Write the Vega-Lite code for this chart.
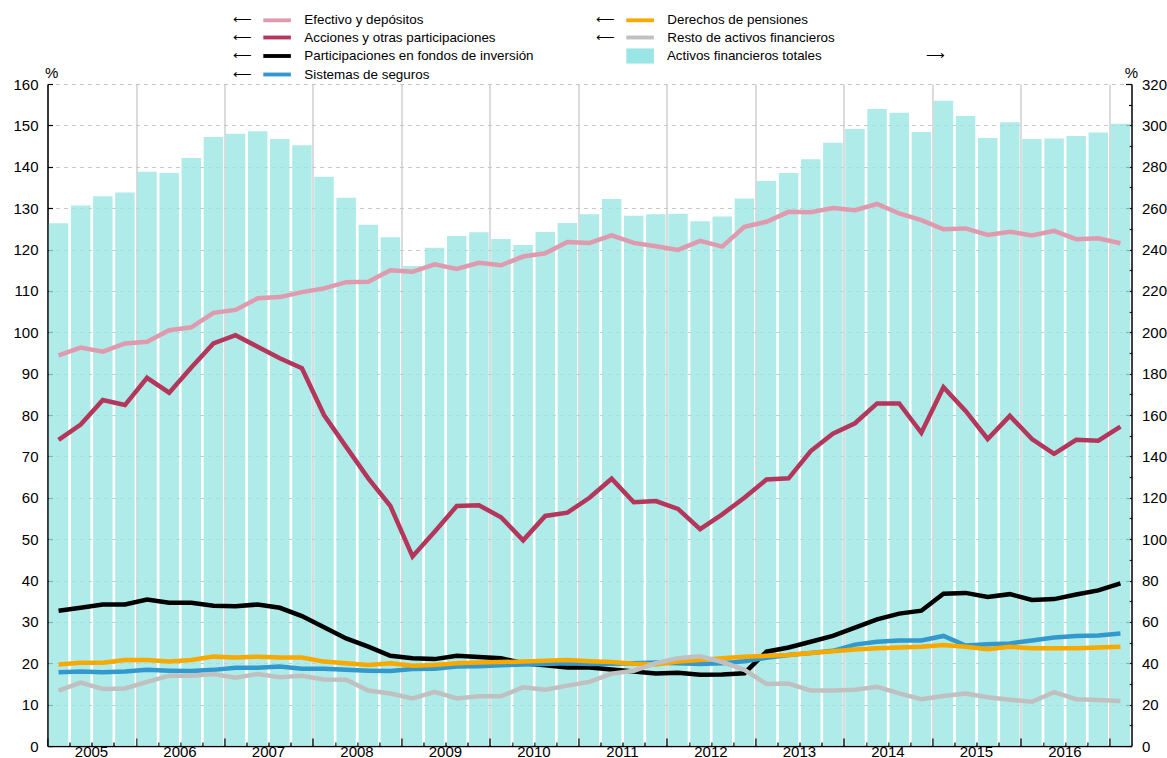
{
  "$schema": "https://vega.github.io/schema/vega-lite/v6.json",
  "autosize": {"type": "none"},
  "padding": {"left": 47.5, "top": 84, "right": 36, "bottom": 12},
  "width": 1084,
  "height": 662,
  "background": "white",
  "config": {
    "view": {"stroke": null},
    "font": "Liberation Sans",
    "axis": {"labelFont": "Liberation Sans", "titleFont": "Liberation Sans", "labelColor": "#000", "titleColor": "#000", "domainColor": "#000", "tickColor": "#000"}
  },
  "data": {
    "values": [
      {"q":"2005 Q1","total":252.7,"efectivo":94.4,"acciones":74.0,"fondos":32.7,"seguros":17.8,"pensiones":19.7,"resto":13.4},
      {"q":"2005 Q2","total":261.3,"efectivo":96.3,"acciones":77.7,"fondos":33.4,"seguros":18.0,"pensiones":20.1,"resto":15.3},
      {"q":"2005 Q3","total":265.7,"efectivo":95.3,"acciones":83.6,"fondos":34.2,"seguros":17.8,"pensiones":20.1,"resto":13.8},
      {"q":"2005 Q4","total":267.5,"efectivo":97.3,"acciones":82.4,"fondos":34.2,"seguros":18.0,"pensiones":20.8,"resto":13.9},
      {"q":"2006 Q1","total":277.6,"efectivo":97.7,"acciones":89.0,"fondos":35.4,"seguros":18.4,"pensiones":20.8,"resto":15.5},
      {"q":"2006 Q2","total":277.0,"efectivo":100.5,"acciones":85.4,"fondos":34.6,"seguros":18.2,"pensiones":20.4,"resto":17.0},
      {"q":"2006 Q3","total":284.2,"efectivo":101.2,"acciones":91.5,"fondos":34.6,"seguros":18.1,"pensiones":20.8,"resto":17.0},
      {"q":"2006 Q4","total":294.4,"efectivo":104.7,"acciones":97.3,"fondos":33.9,"seguros":18.4,"pensiones":21.6,"resto":17.4},
      {"q":"2007 Q1","total":296.0,"efectivo":105.4,"acciones":99.3,"fondos":33.8,"seguros":18.9,"pensiones":21.4,"resto":16.5},
      {"q":"2007 Q2","total":297.1,"efectivo":108.2,"acciones":96.5,"fondos":34.2,"seguros":18.9,"pensiones":21.6,"resto":17.4},
      {"q":"2007 Q3","total":293.4,"efectivo":108.5,"acciones":93.7,"fondos":33.4,"seguros":19.2,"pensiones":21.4,"resto":16.6},
      {"q":"2007 Q4","total":290.4,"efectivo":109.7,"acciones":91.3,"fondos":31.4,"seguros":18.7,"pensiones":21.4,"resto":17.0},
      {"q":"2008 Q1","total":275.2,"efectivo":110.6,"acciones":80.0,"fondos":28.7,"seguros":18.7,"pensiones":20.4,"resto":16.1},
      {"q":"2008 Q2","total":265.0,"efectivo":112.1,"acciones":72.3,"fondos":26.0,"seguros":18.4,"pensiones":20.0,"resto":16.0},
      {"q":"2008 Q3","total":252.0,"efectivo":112.2,"acciones":64.7,"fondos":24.0,"seguros":18.2,"pensiones":19.6,"resto":13.4},
      {"q":"2008 Q4","total":245.9,"efectivo":115.0,"acciones":58.0,"fondos":21.8,"seguros":18.1,"pensiones":20.0,"resto":12.7},
      {"q":"2009 Q1","total":232.0,"efectivo":114.6,"acciones":45.8,"fondos":21.2,"seguros":18.6,"pensiones":19.4,"resto":11.5},
      {"q":"2009 Q2","total":240.9,"efectivo":116.4,"acciones":51.8,"fondos":21.0,"seguros":18.7,"pensiones":19.6,"resto":13.1},
      {"q":"2009 Q3","total":246.5,"efectivo":115.3,"acciones":58.0,"fondos":21.8,"seguros":19.2,"pensiones":20.0,"resto":11.5},
      {"q":"2009 Q4","total":248.3,"efectivo":116.8,"acciones":58.2,"fondos":21.5,"seguros":19.3,"pensiones":20.2,"resto":12.0},
      {"q":"2010 Q1","total":245.1,"efectivo":116.2,"acciones":55.3,"fondos":21.2,"seguros":19.5,"pensiones":20.3,"resto":12.0},
      {"q":"2010 Q2","total":242.2,"efectivo":118.3,"acciones":49.7,"fondos":20.0,"seguros":19.7,"pensiones":20.4,"resto":14.2},
      {"q":"2010 Q3","total":248.5,"efectivo":119.1,"acciones":55.6,"fondos":19.5,"seguros":19.8,"pensiones":20.6,"resto":13.6},
      {"q":"2010 Q4","total":252.8,"efectivo":121.8,"acciones":56.4,"fondos":19.0,"seguros":20.0,"pensiones":20.8,"resto":14.6},
      {"q":"2011 Q1","total":257.0,"efectivo":121.6,"acciones":60.0,"fondos":19.0,"seguros":19.8,"pensiones":20.5,"resto":15.5},
      {"q":"2011 Q2","total":264.4,"efectivo":123.4,"acciones":64.6,"fondos":18.5,"seguros":19.9,"pensiones":20.3,"resto":17.5},
      {"q":"2011 Q3","total":256.3,"efectivo":121.6,"acciones":58.9,"fondos":18.0,"seguros":20.0,"pensiones":19.9,"resto":18.2},
      {"q":"2011 Q4","total":257.0,"efectivo":120.8,"acciones":59.2,"fondos":17.5,"seguros":20.2,"pensiones":19.7,"resto":20.0},
      {"q":"2012 Q1","total":257.3,"efectivo":119.9,"acciones":57.3,"fondos":17.7,"seguros":20.0,"pensiones":20.4,"resto":21.2},
      {"q":"2012 Q2","total":253.6,"efectivo":122.1,"acciones":52.4,"fondos":17.2,"seguros":19.8,"pensiones":20.8,"resto":21.7},
      {"q":"2012 Q3","total":255.9,"efectivo":120.7,"acciones":56.0,"fondos":17.3,"seguros":20.0,"pensiones":21.2,"resto":20.3},
      {"q":"2012 Q4","total":264.7,"efectivo":125.5,"acciones":60.0,"fondos":17.6,"seguros":20.5,"pensiones":21.6,"resto":18.4},
      {"q":"2013 Q1","total":273.1,"efectivo":126.7,"acciones":64.4,"fondos":22.8,"seguros":21.3,"pensiones":21.8,"resto":15.0},
      {"q":"2013 Q2","total":277.0,"efectivo":129.1,"acciones":64.7,"fondos":23.8,"seguros":22.0,"pensiones":22.0,"resto":15.1},
      {"q":"2013 Q3","total":283.6,"efectivo":129.0,"acciones":71.3,"fondos":25.2,"seguros":22.5,"pensiones":22.5,"resto":13.4},
      {"q":"2013 Q4","total":291.6,"efectivo":130.0,"acciones":75.5,"fondos":26.6,"seguros":23.0,"pensiones":22.9,"resto":13.4},
      {"q":"2014 Q1","total":298.2,"efectivo":129.5,"acciones":78.0,"fondos":28.6,"seguros":24.5,"pensiones":23.3,"resto":13.6},
      {"q":"2014 Q2","total":307.9,"efectivo":131.0,"acciones":82.8,"fondos":30.6,"seguros":25.2,"pensiones":23.6,"resto":14.3},
      {"q":"2014 Q3","total":306.1,"efectivo":128.7,"acciones":82.8,"fondos":32.0,"seguros":25.5,"pensiones":23.8,"resto":12.7},
      {"q":"2014 Q4","total":296.8,"efectivo":127.1,"acciones":75.7,"fondos":32.7,"seguros":25.5,"pensiones":24.0,"resto":11.3},
      {"q":"2015 Q1","total":311.9,"efectivo":124.9,"acciones":86.7,"fondos":36.8,"seguros":26.6,"pensiones":24.4,"resto":12.1},
      {"q":"2015 Q2","total":304.5,"efectivo":125.1,"acciones":81.0,"fondos":37.0,"seguros":24.3,"pensiones":24.0,"resto":12.7},
      {"q":"2015 Q3","total":293.9,"efectivo":123.5,"acciones":74.2,"fondos":36.0,"seguros":24.6,"pensiones":23.4,"resto":11.8},
      {"q":"2015 Q4","total":301.5,"efectivo":124.3,"acciones":79.8,"fondos":36.7,"seguros":24.8,"pensiones":24.0,"resto":11.2},
      {"q":"2016 Q1","total":293.4,"efectivo":123.4,"acciones":74.2,"fondos":35.3,"seguros":25.5,"pensiones":23.6,"resto":10.7},
      {"q":"2016 Q2","total":293.7,"efectivo":124.5,"acciones":70.6,"fondos":35.5,"seguros":26.2,"pensiones":23.6,"resto":13.0},
      {"q":"2016 Q3","total":294.9,"efectivo":122.5,"acciones":74.0,"fondos":36.6,"seguros":26.6,"pensiones":23.6,"resto":11.3},
      {"q":"2016 Q4","total":296.6,"efectivo":122.7,"acciones":73.8,"fondos":37.6,"seguros":26.7,"pensiones":23.8,"resto":11.1},
      {"q":"2017 Q1","total":300.8,"efectivo":121.5,"acciones":77.2,"fondos":39.3,"seguros":27.2,"pensiones":24.0,"resto":10.9}
    ]
  },
  "transform": [
    {"fold": ["total", "efectivo", "acciones", "fondos", "seguros", "pensiones", "resto"], "as": ["serie", "v"]}
  ],
  "encoding": {
    "x": {
      "field": "q", "type": "ordinal",
      "scale": {"paddingInner": 0.12, "paddingOuter": 0.06},
      "axis": {
        "title": null,
        "bandPosition": 0,
        "tickOffset": -1.3,
        "labelExpr": "substring(datum.value, 6, 7) == '3' ? substring(datum.value, 0, 4) : ''",
        "labelAngle": 0, "labelAlign": "center", "labelBaseline": "top",
        "labelFontSize": 15, "labelOverlap": false, "labelPadding": 2, "labelOffset": -10.5,
        "tickSize": {"condition": {"test": "substring(datum.value, 6, 7) == '1'", "value": -8}, "value": -4},
        "tickWidth": 1.3,
        "domainWidth": 1.5,
        "grid": true, "gridColor": "#c4c4c4", "gridWidth": 1.2,
        "gridOpacity": {"condition": {"test": "substring(datum.value, 6, 7) == '1'", "value": 1}, "value": 0}
      }
    },
    "color": {
      "field": "serie", "type": "nominal",
      "scale": {
        "domain": ["efectivo", "acciones", "fondos", "seguros", "pensiones", "resto", "total"],
        "range": ["#e09aae", "#b5365b", "#000000", "#3399cc", "#f8a900", "#c0c0c0", "#9ae6e4"]
      },
      "legend": {
        "orient": "none", "legendX": 182.6, "legendY": -71,
        "columns": 2, "columnPadding": 59, "rowPadding": 3.5, "padding": 0,
        "title": null,
        "labelFont": "Liberation Sans", "labelFontSize": 13.4, "labelColor": "#000", "labelLimit": 600,
        "symbolSize": 190, "symbolOffset": 40, "labelOffset": -50.9,
        "symbolStrokeWidth": 0,
        "labelExpr": "datum.value == 'total' ? '\u200b\u00a0\u00a0\u00a0\u00a0\u00a0\u00a0\u00a0\u00a0\u00a0\u00a0\u00a0\u00a0\u00a0\u00a0\u00a0\u00a0\u00a0\u00a0\u00a0Activos financieros totales\u00a0\u00a0\u00a0\u00a0\u00a0\u00a0\u00a0\u00a0\u00a0\u00a0\u00a0\u00a0\u00a0\u00a0\u00a0\u00a0\u00a0\u00a0\u00a0\u00a0\u00a0\u00a0\u00a0\u00a0\u00a0\u00a0\u00a0\u00a0⟶' : '⟵\u00a0\u00a0\u00a0\u00a0\u00a0\u00a0\u00a0\u00a0\u00a0\u00a0\u00a0\u00a0\u00a0\u00a0' + (datum.value == 'efectivo' ? 'Efectivo y depósitos' : datum.value == 'acciones' ? 'Acciones y otras participaciones' : datum.value == 'fondos' ? 'Participaciones en fondos de inversión' : datum.value == 'seguros' ? 'Sistemas de seguros' : datum.value == 'pensiones' ? 'Derechos de pensiones' : 'Resto de activos financieros')",
        "encode": {
          "symbols": {
            "update": {
              "shape": {"signal": "datum.value == 'total' ? 'M-2,-1.1H2V1.1H-2Z' : 'M-2,-0.28H2V0.28H-2Z'"},
              "fill": {"signal": "datum.value == 'total' ? '#aeebe8' : scale('color', datum.value)"},
              "stroke": {"value": "transparent"},
              "opacity": {"value": 1}
            }
          }
        }
      }
    }
  },
  "layer": [
    {
      "transform": [{"filter": "datum.serie == 'total'"}],
      "mark": {"type": "bar", "opacity": 0.8},
      "encoding": {
        "y": {
          "field": "v", "type": "quantitative",
          "scale": {"domain": [0, 320], "nice": false},
          "axis": {
            "orient": "right",
            "values": [0,10,20,30,40,50,60,70,80,90,100,110,120,130,140,150,160,170,180,190,200,210,220,230,240,250,260,270,280,290,300,310,320],
            "labelExpr": "datum.value % 20 == 0 ? datum.label : ''",
            "labelFontSize": 15, "labelPadding": 16,
            "tickSize": {"condition": {"test": "datum.value % 20 == 0", "value": -6}, "value": -3},
            "tickWidth": 1.2,
            "domainWidth": 1.5,
            "grid": false,
            "title": "%", "titleAngle": 0, "titleFontSize": 15, "titleFontWeight": "normal",
            "titleAlign": "right", "titleBaseline": "bottom", "titleX": 6, "titleY": -4
          }
        }
      }
    },
    {
      "transform": [{"filter": "datum.serie != 'total'"}],
      "mark": {"type": "line", "strokeWidth": 4.5},
      "encoding": {
        "y": {
          "field": "v", "type": "quantitative",
          "scale": {"domain": [0, 160], "nice": false},
          "axis": {
            "orient": "left",
            "values": [0,10,20,30,40,50,60,70,80,90,100,110,120,130,140,150,160],
            "labelFontSize": 15, "labelPadding": 14.5,
            "tickSize": -5, "tickWidth": 1.2,
            "domainWidth": 1.5,
            "grid": true, "gridColor": "#c8c8c8", "gridDash": [4, 4], "gridWidth": 1,
            "title": "%", "titleAngle": 0, "titleFontSize": 15, "titleFontWeight": "normal",
            "titleAlign": "left", "titleBaseline": "bottom", "titleX": -3, "titleY": -4
          }
        }
      }
    }
  ],
  "resolve": {"scale": {"y": "independent"}}
}
